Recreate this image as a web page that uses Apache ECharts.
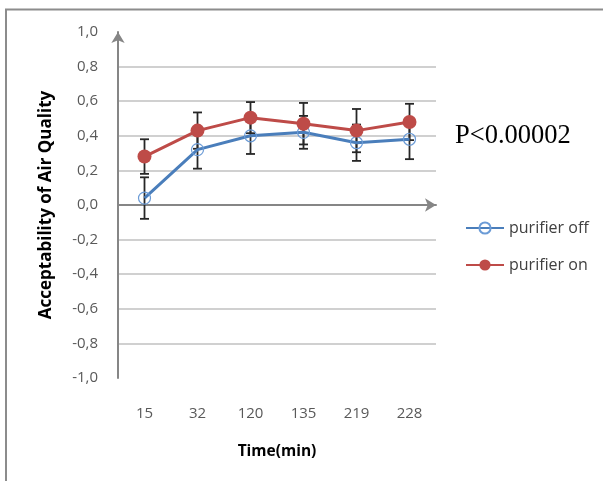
<!DOCTYPE html>
<html>
<head>
<meta charset="utf-8">
<script src="https://cdn.jsdelivr.net/npm/echarts@6/dist/echarts.min.js"></script>
<style>html,body{margin:0;padding:0;background:#fff}#c{width:603px;height:481px}</style>
</head>
<body>
<div id="c"></div>
<script>
const categories = ['15', '32', '120', '135', '219', '228'];
const offMeans = [0.04, 0.32, 0.40, 0.42, 0.36, 0.38];
const offErrors = [0.12, 0.11, 0.105, 0.095, 0.105, 0.115];
const onMeans = [0.28, 0.43, 0.505, 0.47, 0.43, 0.48];
const onErrors = [0.10, 0.105, 0.09, 0.12, 0.125, 0.105];
const yTicks = { min: -1, max: 1, interval: 0.2 };
const seriesNames = ['purifier off', 'purifier on'];
const annotation = 'P<0.00002';

const chart = echarts.init(document.getElementById('c'), null, { renderer: 'canvas' });

function errData(means, errs) {
  return means.map((m, i) => [i, m - errs[i], m + errs[i]]);
}
function errRender(params, api) {
  const x = api.value(0);
  const lo = api.coord([x, api.value(1)]);
  const hi = api.coord([x, api.value(2)]);
  const hw = 4.5;
  const style = { stroke: '#262626', lineWidth: 1.8 };
  return {
    type: 'group',
    children: [
      { type: 'line', shape: { x1: hi[0], y1: hi[1], x2: lo[0], y2: lo[1] }, style },
      { type: 'line', shape: { x1: hi[0] - hw, y1: hi[1], x2: hi[0] + hw, y2: hi[1] }, style },
      { type: 'line', shape: { x1: lo[0] - hw, y1: lo[1], x2: lo[0] + hw, y2: lo[1] }, style }
    ]
  };
}

const labelFont = { fontFamily: 'Open Sans', fontSize: 15, color: '#595959' };

chart.setOption({
  animation: false,
  backgroundColor: '#fff',
  grid: { left: 118, right: 167, top: 32, bottom: 103, containLabel: false },
  xAxis: [
    {
      type: 'category', data: categories, boundaryGap: true,
      axisLine: { show: false, onZero: false }, axisTick: { show: false },
      axisLabel: Object.assign({ margin: 28 }, labelFont),
      splitLine: { show: false },
      name: 'Time(min)', nameLocation: 'middle', nameGap: 66,
      nameTextStyle: { fontFamily: 'Open Sans', fontSize: 15.5, fontWeight: 'bold', color: '#000' }
    },
    {
      type: 'category', data: categories, boundaryGap: true, position: 'bottom',
      axisLine: { show: true, onZero: true, symbol: ['none', 'arrow'], symbolSize: [10, 11], symbolOffset: [0, 0],
        lineStyle: { color: '#868686', width: 2 } },
      axisTick: { show: false }, axisLabel: { show: false }, splitLine: { show: false }
    }
  ],
  yAxis: {
    type: 'value', min: yTicks.min, max: yTicks.max, interval: yTicks.interval,
    axisLine: { show: true, onZero: false, symbol: ['none', 'arrow'], symbolSize: [10, 11], symbolOffset: [0, 0],
      lineStyle: { color: '#868686', width: 2 } },
    axisTick: { show: false },
    axisLabel: Object.assign({ margin: 20, formatter: v => v.toFixed(1).replace('.', ',') }, labelFont),
    splitLine: { show: true, showMinLine: false, showMaxLine: false, lineStyle: { color: '#c0c0c0', width: 1.5 } },
    name: 'Acceptability of Air Quality', nameLocation: 'middle', nameGap: 63,
    nameTextStyle: { fontFamily: 'Open Sans', fontSize: 17, fontWeight: 'bold', color: '#000' }
  },
  legend: {
    orient: 'vertical', left: 465, top: 220, padding: 0, itemGap: 21, itemWidth: 38, itemHeight: 14,
    data: seriesNames,
    textStyle: { fontFamily: 'Open Sans', fontSize: 16, color: '#404040' }
  },
  series: [
    {
      type: 'custom', name: 'err-off', xAxisIndex: 0, renderItem: errRender, data: errData(offMeans, offErrors),
      encode: { x: 0, y: [1, 2] }, z: 1, silent: true
    },
    {
      type: 'custom', name: 'err-on', xAxisIndex: 0, renderItem: errRender, data: errData(onMeans, onErrors),
      encode: { x: 0, y: [1, 2] }, z: 1, silent: true
    },
    {
      type: 'line', name: seriesNames[0], xAxisIndex: 0, data: offMeans, z: 3,
      symbol: 'circle', symbolSize: 12,
      lineStyle: { color: '#4a7ebb', width: 3 },
      itemStyle: { color: 'rgba(255,255,255,0)', borderColor: '#6b9bd6', borderWidth: 1.2 }
    },
    {
      type: 'line', name: seriesNames[1], xAxisIndex: 0, data: onMeans, z: 4,
      symbol: 'circle', symbolSize: 14,
      lineStyle: { color: '#be4b48', width: 3 },
      itemStyle: { color: '#be4b48' }
    }
  ],
  graphic: [
    { type: 'line', shape: { x1: 5, y1: 9.5, x2: 603, y2: 9.5 }, style: { stroke: '#8c8c8c', lineWidth: 2 } },
    { type: 'line', shape: { x1: 6, y1: 9, x2: 6, y2: 481 }, style: { stroke: '#8c8c8c', lineWidth: 2 } },
    { type: 'text', left: 455, top: 123, style: { text: annotation, font: '26.5px "Liberation Serif"', fill: '#000' } }
  ]
});
</script>
</body>
</html>
